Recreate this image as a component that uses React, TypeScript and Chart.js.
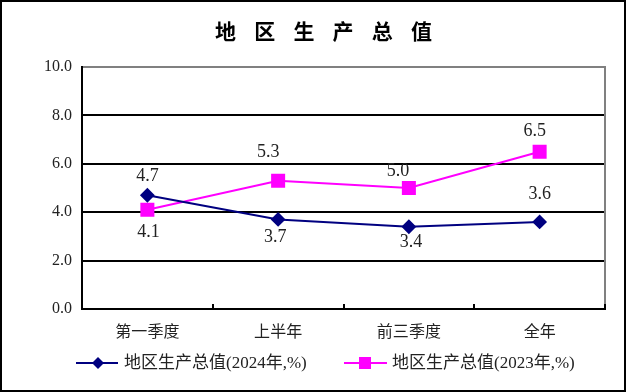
import React, { useEffect, useRef } from "react";
import { Chart, registerables } from "chart.js";

Chart.register(...registerables);

const categories = ["第一季度", "上半年", "前三季度", "全年"];
const series2024 = [4.7, 3.7, 3.4, 3.6];
const series2023 = [4.1, 5.3, 5.0, 6.5];
const yTicks = [0, 2, 4, 6, 8, 10];
const titleText = "地区生产总值";
const legend2024 = "地区生产总值(2024年,%)";
const legend2023 = "地区生产总值(2023年,%)";
// label placement offsets (dx, dy) from each point
const labelOffsets2024 = [[0, -19], [-3, 18], [2, 16], [0, -28]];
const labelOffsets2023 = [[1, 22], [-10, -28], [-11, -17], [-5, -20]];

const NAVY = "#000080";
const MAGENTA = "#FF00FF";
const FONT = '"Liberation Serif", "Noto Sans CJK SC", serif';

export default function App() {
  const ref = useRef<HTMLCanvasElement>(null);
  useEffect(() => {
    document.body.style.margin = "0";
    const canvas = ref.current!;
    const decor = {
      id: "decor",
      afterDraw(chart: any) {
        const ctx = chart.ctx;
        const a = chart.chartArea;
        ctx.save();
        // right gray border
        ctx.strokeStyle = "#808080";
        ctx.lineWidth = 2;
        ctx.beginPath();
        ctx.moveTo(a.right, a.top - 1);
        ctx.lineTo(a.right, a.bottom);
        ctx.stroke();
        // inside x ticks
        ctx.strokeStyle = "#000";
        const n = categories.length;
        const w = (a.right - a.left) / n;
        for (let i = 1; i <= n; i++) {
          const x = Math.round(a.left + i * w);
          ctx.beginPath();
          ctx.moveTo(x, a.bottom);
          ctx.lineTo(x, a.bottom - 5);
          ctx.stroke();
        }
        // title
        ctx.fillStyle = "#000";
        ctx.font = 'bold 21px "Noto Sans CJK SC", sans-serif';
        ctx.textAlign = "center";
        ctx.textBaseline = "middle";
        Array.from(titleText).forEach((c, i) => ctx.fillText(c, 223.5 + i * 39.2, 29));
        // data labels
        ctx.font = "18px " + FONT;
        ctx.fillStyle = "#222";
        const drawLabels = (dsIndex: number, vals: number[], offs: number[][]) => {
          const meta = chart.getDatasetMeta(dsIndex);
          meta.data.forEach((pt: any, i: number) => {
            ctx.fillText(vals[i].toFixed(1), pt.x + offs[i][0], pt.y + offs[i][1]);
          });
        };
        drawLabels(0, series2024, labelOffsets2024);
        drawLabels(1, series2023, labelOffsets2023);
        // legend
        const ly = 361;
        ctx.lineWidth = 2;
        ctx.strokeStyle = NAVY;
        ctx.beginPath();
        ctx.moveTo(74, ly);
        ctx.lineTo(116, ly);
        ctx.stroke();
        ctx.fillStyle = NAVY;
        ctx.beginPath();
        ctx.moveTo(96 - 6, ly);
        ctx.lineTo(96, ly - 6);
        ctx.lineTo(96 + 6, ly);
        ctx.lineTo(96, ly + 6);
        ctx.closePath();
        ctx.fill();
        ctx.strokeStyle = MAGENTA;
        ctx.beginPath();
        ctx.moveTo(342, ly);
        ctx.lineTo(385, ly);
        ctx.stroke();
        ctx.fillStyle = MAGENTA;
        ctx.fillRect(363 - 6, ly - 6, 12, 12);
        ctx.fillStyle = "#222";
        ctx.font = "17px " + FONT;
        ctx.textAlign = "left";
        ctx.fillText(legend2024, 122, ly + 1);
        ctx.fillText(legend2023, 390, ly + 1);
        ctx.restore();
      },
    };
    const chart = new Chart(canvas, {
      type: "line",
      data: {
        labels: categories,
        datasets: [
          {
            label: legend2024,
            data: series2024,
            borderColor: NAVY,
            backgroundColor: NAVY,
            borderWidth: 2,
            pointStyle: "rectRot",
            pointRadius: 6,
            pointHoverRadius: 6,
            tension: 0,
          },
          {
            label: legend2023,
            data: series2023,
            borderColor: MAGENTA,
            backgroundColor: MAGENTA,
            borderWidth: 2,
            pointStyle: "rect",
            pointRadius: 8.5,
            pointHoverRadius: 8.5,
            tension: 0,
          },
        ],
      },
      options: {
        responsive: false,
        animation: false,
        events: [],
        layout: { padding: { left: 0, right: 19, top: 65, bottom: 51 } },
        plugins: {
          legend: { display: false },
          title: { display: false },
          tooltip: { enabled: false },
        },
        scales: {
          x: {
            type: "category",
            offset: true,
            grid: { display: false, drawTicks: false },
            border: { display: true, color: "#000", width: 2 },
            ticks: {
              padding: 14,
              color: "#222",
              font: { family: FONT, size: 16 },
              maxRotation: 0,
            },
            afterFit: (s: any) => {
              s.height = 30;
            },
          },
          y: {
            min: 0,
            max: 10,
            afterBuildTicks: (s: any) => {
              s.ticks = yTicks.map((v) => ({ value: v }));
            },
            grid: {
              drawTicks: false,
              color: (c: any) => (c.tick && c.tick.value === 10 ? "#808080" : "#000"),
              lineWidth: 2,
            },
            border: { display: true, color: "#000", width: 2 },
            ticks: {
              padding: 10,
              color: "#222",
              font: { family: FONT, size: 16 },
              callback: (v: any) => Number(v).toFixed(1),
            },
            afterFit: (s: any) => {
              s.width = 80;
            },
          },
        },
      },
      plugins: [decor],
    });
    return () => chart.destroy();
  }, []);
  return (
    <div
      style={{
        width: 626,
        height: 392,
        border: "2px solid #000",
        boxSizing: "border-box",
        background: "#fff",
      }}
    >
      <canvas ref={ref} width={622} height={388} style={{ display: "block" }} />
    </div>
  );
}
